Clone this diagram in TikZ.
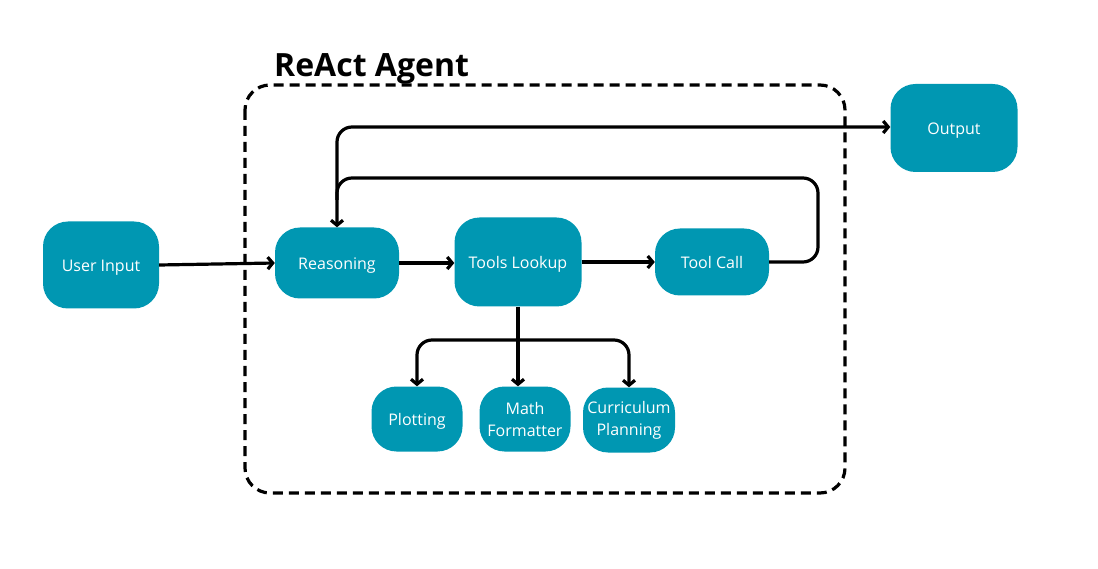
\documentclass[tikz,border=0pt]{standalone}
\usepackage{fontspec}
\setmainfont{Open Sans}
\usetikzlibrary{arrows.meta}
\definecolor{teal1}{HTML}{0097B2}
\begin{document}
\begin{tikzpicture}[x=1pt,y=-1pt,
  box/.style={fill=teal1, draw=none, rounded corners=25pt, text=white, font=\fontsize{16}{22}\selectfont, align=center, inner sep=0pt},
  one/.style={text height=17pt, text depth=4pt},
  conn/.style={line width=3.2pt, -{Straight Barb[length=5pt,width=12pt,line width=3.2pt]}}]
\useasboundingbox (0,0) rectangle (1098,569);
\draw[line width=3.2pt, dash pattern=on 10pt off 6pt, rounded corners=25pt] (245,85) rectangle (845,493);
\node[anchor=base west, font=\bfseries\fontsize{32}{34}\selectfont, inner sep=0pt] (title) at (274,77) {ReAct Agent};
\node[box, one, minimum width=116pt, minimum height=87pt] (ui) at (101,265) {User Input};
\node[box, one, minimum width=124pt, minimum height=71pt] (rs) at (337,263) {Reasoning};
\node[box, one, minimum width=127pt, minimum height=89pt] (tl) at (518,262) {Tools Lookup};
\node[box, one, minimum width=114pt, minimum height=67pt] (tc) at (712,262) {Tool Call};
\node[box, one, minimum width=127pt, minimum height=88pt] (out) at (954,128) {Output};
\node[box, one, minimum width=91pt, minimum height=65pt] (pl) at (417,419) {Plotting};
\node[box, minimum width=91pt, minimum height=65pt] (mf) at (525,419) {Math\\Formatter};
\node[box, minimum width=92pt, minimum height=65pt] (cp) at (629,420) {Curriculum\\Planning};
\coordinate (br) at (518,340);
\coordinate (lp) at (818,178);
\draw[conn] (ui.east) -- (rs.west);
\draw[conn] (rs.east) -- (tl.west |- rs.east);
\draw[conn] (tl.east |- tc.west) -- (tc.west);
\draw[conn, rounded corners=15pt] (tc.east) -- (tc.east -| lp) -- (lp) -- (rs.north |- lp) -- (rs.north);
\draw[conn, rounded corners=15pt] (337,200) -- (337,127) -- (out.west |- 0,127);
\draw[conn] (tl.south) -- (tl.south |- mf.north);
\draw[conn, rounded corners=15pt] (br) -- (417,340) -- (pl.north);
\draw[conn, rounded corners=15pt] (br) -- (629,340) -- (cp.north);
\end{tikzpicture}
\end{document}
